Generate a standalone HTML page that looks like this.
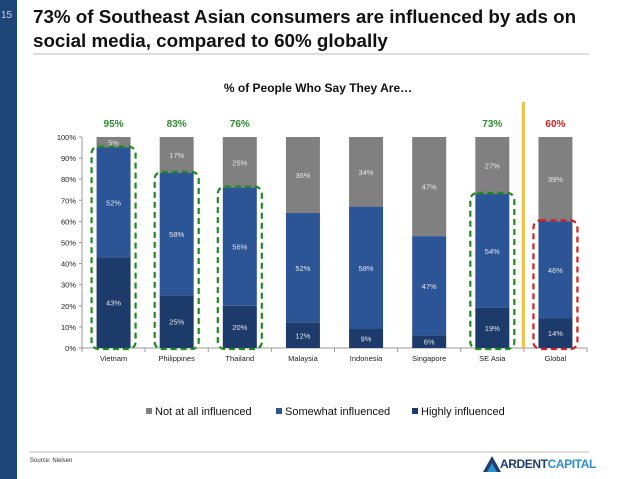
<!DOCTYPE html>
<html><head><meta charset="utf-8"><style>
body{margin:0;width:638px;height:479px;overflow:hidden;background:#fff;font-family:"Liberation Sans",Arial,sans-serif;position:relative}
.abs{position:absolute}
</style></head><body>
<div class="abs" style="left:0;top:0;width:17px;height:479px;background:#1f4678"></div>
<div class="abs" style="left:1px;top:10px;font-size:10px;color:#c8d3e3">15</div>
<div class="abs" style="left:33px;top:5px;font-size:18.8px;font-weight:bold;line-height:24px;color:#111">73% of Southeast Asian consumers are influenced by ads on<br>social media, compared to 60% globally</div>
<div class="abs" style="left:33px;top:53px;width:556px;height:2px;background:#ddd"></div>
<svg class="abs" style="left:0;top:0" width="638" height="479" id="chart"></svg>
<div class="abs" style="left:29px;top:451px;width:560px;height:2px;background:#ddd"></div>
<div class="abs" style="left:30px;top:458px;font-size:6px;color:#333">Source: Nielsen</div>
<svg class="abs" style="left:483px;top:456px" width="18" height="16"><polygon points="9,0 18,16 0,16" fill="#1f3d6d"/><polygon points="9,7 14,16 4,16" fill="#2b8fd0"/></svg>
<div class="abs" style="left:500px;top:457px;font-size:12px;font-weight:bold;letter-spacing:-0.4px"><span style="color:#1f3d6d">ARDENT</span><span style="color:#2b8fd0">CAPITAL</span></div>
<script>
const categories=["Vietnam","Philippines","Thailand","Malaysia","Indonesia","Singapore","SE Asia","Global"];
const highly=[43,25,20,12,9,6,19,14];
const somewhat=[52,58,56,52,58,47,54,46];
const notAtAll=[5,17,25,36,34,47,27,39];
const headline=["95%","83%","76%","","","","73%","60%"];
const yTicks=[0,10,20,30,40,50,60,70,80,90,100];
const highlight=["green","green","green","","","","green","red"];
const svg=document.getElementById('chart');
const NS='http://www.w3.org/2000/svg';
const x0=82,x1=587,y0=348,y1=137;
const bw=(x1-x0)/categories.length;
const y=v=>y0-(v/100)*(y0-y1);
const xc=i=>x0+bw*(i+0.5);
function mk(t,a,txt){const e=document.createElementNS(NS,t);for(const k in a)e.setAttribute(k,a[k]);if(txt!==undefined)e.textContent=txt;svg.appendChild(e);return e;}
let e=mk('text',{x:318,y:92,'text-anchor':'middle','font-size':12,'font-weight':'bold',fill:'#111'},'% of People Who Say They Are…');


e=mk('line',{x1:x0,y1:y0,x2:x0,y2:y1,stroke:'#999'});


e=mk('line',{x1:x0,y1:y0,x2:x1,y2:y0,stroke:'#999'});


yTicks.forEach(t=>{
  mk('line',{x1:x0-3,y1:y(t),x2:x0,y2:y(t),stroke:'#999'});
  e=mk('text',{x:x0-6,y:y(t)+3,'text-anchor':'end','font-size':7.5,fill:'#222'},t+'%');
  
  
});
for(let i=0;i<=categories.length;i++)mk('line',{x1:x0+bw*i,y1:y0,x2:x0+bw*i,y2:y0+4,stroke:'#999'});
const half=17;
categories.forEach((c,i)=>{
  const cx=xc(i);
  const h=highly[i],s=somewhat[i],n=notAtAll[i];
  const top1=h,top2=Math.min(100,h+s);
  e=mk('rect',{x:cx-half,y:y(100),width:2*half,height:y(top2)-y(100),fill:'#808080'});
  
  
  e=mk('rect',{x:cx-half,y:y(top2),width:2*half,height:y(top1)-y(top2),fill:'#2b5597'});
  
  
  e=mk('rect',{x:cx-half,y:y(top1),width:2*half,height:y(0)-y(top1),fill:'#1c3a6a'});
  
  
  const lab=(v,a,b)=>{const t=mk('text',{x:cx,y:(y(a)+y(b))/2+3,'text-anchor':'middle','font-size':7.5,fill:'#e6e6e6'},v+'%');
    
    };
  lab(h,0,top1);lab(s,top1,top2);lab(n,top2,100);
  e=mk('text',{x:cx,y:y0+13,'text-anchor':'middle','font-size':7.5,fill:'#222'},c);
  
  
  if(headline[i]){
    e=mk('text',{x:cx,y:127,'text-anchor':'middle','font-size':10,'font-weight':'bold',fill:highlight[i]=='red'?'#d42020':'#2e8b2e'},headline[i]);
    
    
  }
  if(highlight[i]){
    e=mk('rect',{x:cx-22,y:y(top2)-1,width:44,height:y(0)-y(top2)+2,rx:7,fill:'none',stroke:highlight[i]=='red'?'#d42020':'#1e8a1e','stroke-width':2.2,'stroke-dasharray':'6,4'});
    
    
  }
});
e=mk('line',{x1:x0+bw*7-0.5,y1:102,x2:x0+bw*7-0.5,y2:y0,stroke:'#f0c040','stroke-width':3});


const legend=[["Not at all influenced","#808080",146],["Somewhat influenced","#2b5597",276],["Highly influenced","#1c3a6a",412]];
legend.forEach(l=>{
  e=mk('rect',{x:l[2],y:408,width:6,height:6,fill:l[1]});
  
  
  e=mk('text',{x:l[2]+9,y:415,'font-size':11,fill:'#111'},l[0]);
  
  
});
</script>
</body></html>
